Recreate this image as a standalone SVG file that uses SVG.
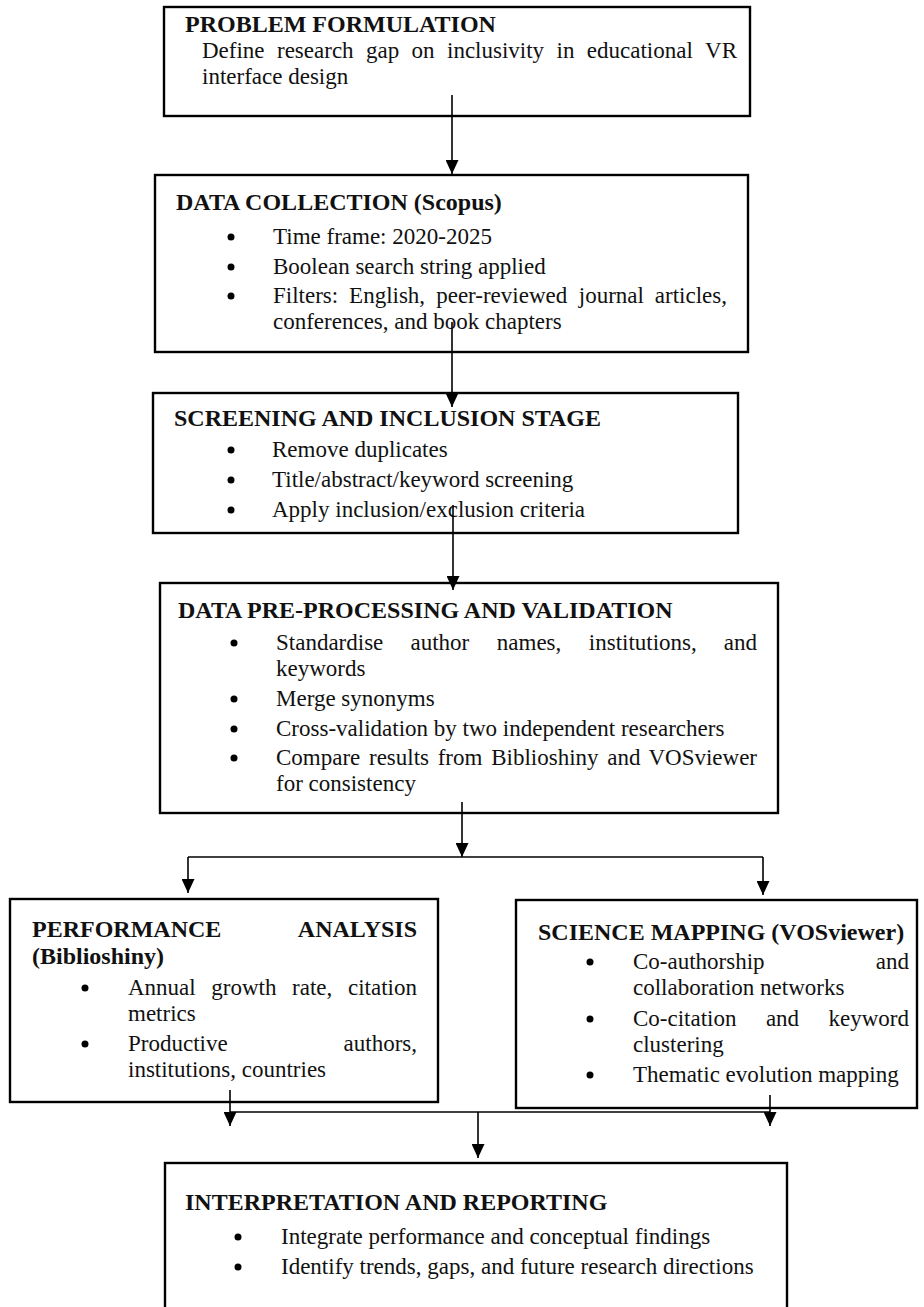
<svg xmlns="http://www.w3.org/2000/svg" width="924" height="1307" viewBox="0 0 924 1307">
<defs>
<marker id="ah" markerWidth="14" markerHeight="13" refX="14" refY="6.5" orient="auto" markerUnits="userSpaceOnUse">
<path d="M0,0 L14,6.5 L0,13 z" fill="#000"/>
</marker>
<style>
.box{fill:#fff;stroke:#000;stroke-width:2.4}
.t{font-family:"Liberation Serif","Times New Roman",serif;font-size:23px;fill:#111}
.b{font-weight:bold;font-size:24px}
.e{text-anchor:end}
.dot{fill:#000}
.c{stroke:#000;stroke-width:1.6;fill:none}
.ca{stroke:#000;stroke-width:1.6;fill:none;marker-end:url(#ah)}
</style>
</defs>
<rect width="924" height="1307" fill="#fff"/>

<g id="n1">
<rect class="box" x="164" y="7" width="586" height="109"/>
<text class="t b" x="185" y="32">PROBLEM FORMULATION</text>
<text class="t" y="58"><tspan x="202">Define</tspan><tspan x="277">research</tspan><tspan x="366">gap</tspan><tspan x="411.6">on</tspan><tspan x="447">inclusivity</tspan><tspan x="556.5">in</tspan><tspan x="586.8">educational</tspan></text>
<text class="t e" x="737" y="58">VR</text>
<text class="t" x="202" y="84">interface design</text>
</g>

<g id="n2">
<rect class="box" x="155" y="175" width="593" height="177"/>
<text class="t b" x="176" y="210">DATA COLLECTION (Scopus)</text>
<circle class="dot" cx="231" cy="237" r="3.5"/>
<text class="t" x="273" y="244">Time frame: 2020-2025</text>
<circle class="dot" cx="231" cy="267" r="3.5"/>
<text class="t" x="273" y="274">Boolean search string applied</text>
<circle class="dot" cx="231" cy="296" r="3.5"/>
<text class="t" y="303"><tspan x="273">Filters:</tspan><tspan x="349.1">English,</tspan><tspan x="436.2">peer-reviewed</tspan><tspan x="578.8">journal</tspan></text>
<text class="t e" x="727" y="303">articles,</text>
<text class="t" x="273" y="329">conferences, and book chapters</text>
</g>

<g id="n3">
<rect class="box" x="153" y="393" width="585" height="140"/>
<text class="t b" x="174" y="426">SCREENING AND INCLUSION STAGE</text>
<circle class="dot" cx="231" cy="450" r="3.5"/>
<text class="t" x="272" y="457">Remove duplicates</text>
<circle class="dot" cx="231" cy="480" r="3.5"/>
<text class="t" x="272" y="487">Title/abstract/keyword screening</text>
<circle class="dot" cx="231" cy="510" r="3.5"/>
<text class="t" x="272" y="517">Apply inclusion/exclusion criteria</text>
</g>

<g id="n4">
<rect class="box" x="160" y="583" width="618" height="230"/>
<text class="t b" x="178" y="618">DATA PRE-PROCESSING AND VALIDATION</text>
<circle class="dot" cx="234" cy="643" r="3.5"/>
<text class="t" y="650"><tspan x="276">Standardise</tspan><tspan x="410.5">author</tspan><tspan x="496.8">names,</tspan><tspan x="588.8">institutions,</tspan></text>
<text class="t e" x="757" y="650">and</text>
<text class="t" x="276" y="676">keywords</text>
<circle class="dot" cx="234" cy="699" r="3.5"/>
<text class="t" x="276" y="706">Merge synonyms</text>
<circle class="dot" cx="234" cy="729" r="3.5"/>
<text class="t" x="276" y="736">Cross-validation by two independent researchers</text>
<circle class="dot" cx="234" cy="758" r="3.5"/>
<text class="t" y="765"><tspan x="276">Compare</tspan><tspan x="369">results</tspan><tspan x="437.7">from</tspan><tspan x="491.2">Biblioshiny</tspan><tspan x="607.3">and</tspan></text>
<text class="t e" x="757" y="765">VOSviewer</text>
<text class="t" x="276" y="791">for consistency</text>
</g>

<g id="n5">
<rect class="box" x="10" y="899" width="428" height="203"/>
<text class="t b" x="32" y="937">PERFORMANCE</text>
<text class="t b e" x="417" y="937">ANALYSIS</text>
<text class="t b" x="32" y="964">(Biblioshiny)</text>
<circle class="dot" cx="85" cy="988" r="3.5"/>
<text class="t" y="995"><tspan x="128">Annual</tspan><tspan x="211.3">growth</tspan><tspan x="292.1">rate,</tspan></text>
<text class="t e" x="417" y="995">citation</text>
<text class="t" x="128" y="1021">metrics</text>
<circle class="dot" cx="85" cy="1044" r="3.5"/>
<text class="t" x="128" y="1051">Productive</text>
<text class="t e" x="417" y="1051">authors,</text>
<text class="t" x="128" y="1077">institutions, countries</text>
</g>

<g id="n6">
<rect class="box" x="516" y="900" width="401" height="208"/>
<text class="t b" x="538" y="940">SCIENCE MAPPING (VOSviewer)</text>
<circle class="dot" cx="590" cy="962" r="3.5"/>
<text class="t" x="633" y="969">Co-authorship</text>
<text class="t e" x="909" y="969">and</text>
<text class="t" x="633" y="995">collaboration networks</text>
<circle class="dot" cx="590" cy="1019" r="3.5"/>
<text class="t" y="1026"><tspan x="633">Co-citation</tspan><tspan x="765.9">and</tspan></text>
<text class="t e" x="909" y="1026">keyword</text>
<text class="t" x="633" y="1052">clustering</text>
<circle class="dot" cx="590" cy="1075" r="3.5"/>
<text class="t" x="633" y="1082">Thematic evolution mapping</text>
</g>

<g id="n7">
<rect class="box" x="165" y="1163" width="622" height="170"/>
<text class="t b" x="185" y="1210">INTERPRETATION AND REPORTING</text>
<circle class="dot" cx="238" cy="1237" r="3.5"/>
<text class="t" x="281" y="1244">Integrate performance and conceptual findings</text>
<circle class="dot" cx="238" cy="1267" r="3.5"/>
<text class="t" x="281" y="1274">Identify trends, gaps, and future research directions</text>
</g>

<g id="connectors">
<line class="ca" x1="452" y1="95" x2="452" y2="174"/>
<line class="ca" x1="452" y1="322" x2="452" y2="407"/>
<line class="ca" x1="453" y1="505" x2="453" y2="590"/>
<line class="ca" x1="462" y1="802" x2="462" y2="857"/>
<line class="c" x1="188" y1="857" x2="763" y2="857"/>
<line class="ca" x1="188" y1="857" x2="188" y2="893"/>
<line class="ca" x1="763" y1="857" x2="763" y2="895"/>
<line class="ca" x1="230" y1="1090" x2="230" y2="1126"/>
<line class="ca" x1="770" y1="1095" x2="770" y2="1126"/>
<line class="c" x1="230" y1="1112" x2="770" y2="1112"/>
<line class="ca" x1="478" y1="1112" x2="478" y2="1158"/>
</g>
</svg>
